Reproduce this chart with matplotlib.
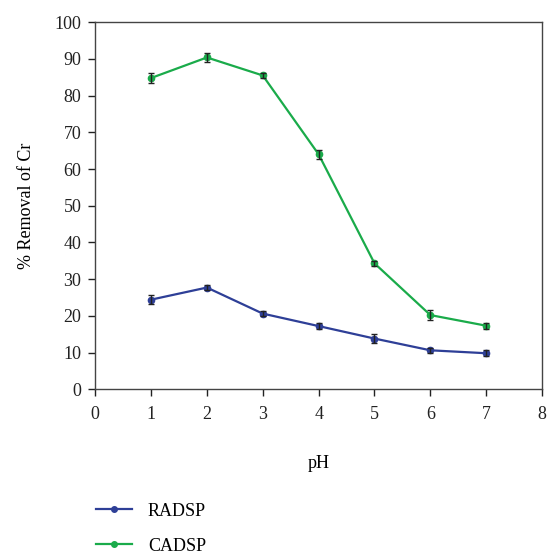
import numpy as np
import matplotlib.pyplot as plt
from matplotlib.lines import Line2D

plt.rcParams['font.family'] = ['Liberation Serif', 'DejaVu Serif']

ph = [1, 2, 3, 4, 5, 6, 7]
radsp = [24.4, 27.7, 20.6, 17.2, 13.8, 10.6, 9.8]
radsp_err = [1.3, 0.8, 0.6, 0.8, 1.3, 0.6, 0.8]
cadsp = [84.8, 90.4, 85.5, 64.0, 34.3, 20.2, 17.3]
cadsp_err = [1.3, 1.3, 0.6, 1.3, 0.6, 1.3, 0.8]

blue = '#2e3f97'
green = '#1aab4a'

fig = plt.figure(figsize=(5.47, 5.56), dpi=100)
ax = fig.add_axes([0.174, 0.300, 0.817, 0.660])

for y, err, c, name in [(radsp, radsp_err, blue, 'RADSP'),
                        (cadsp, cadsp_err, green, 'CADSP')]:
    ax.plot(ph, y, color=c, marker='o', ms=4.5, lw=1.6, zorder=2)
    ax.errorbar(ph, y, yerr=err, fmt='none', ecolor='#222222',
                elinewidth=1, capsize=2.5, capthick=1, zorder=3)

ax.set_xlim(0, 8)
ax.set_ylim(0, 100)
ax.set_xticks(range(0, 9))
ax.set_yticks(range(0, 101, 10))
ax.tick_params(direction='out', length=5, width=1, labelsize=13,
               colors='#222222')
ax.tick_params(axis='y', pad=5)
ax.tick_params(axis='x', pad=7)
for s in ax.spines.values():
    s.set_color('#444444')
    s.set_linewidth(1)

ax.set_xlabel('pH', fontsize=13, labelpad=23)
ax.set_ylabel('% Removal of Cr', fontsize=13, labelpad=14)

h1 = Line2D([], [], color=blue, marker='o', ms=4, lw=1.6)
h2 = Line2D([], [], color=green, marker='o', ms=4, lw=1.6)
fig.legend([h1, h2], ['RADSP', 'CADSP'], loc='upper left',
           bbox_to_anchor=(0.145, 0.125), frameon=False, fontsize=13,
           handlelength=2.0, labelspacing=1.0, handletextpad=0.9)

fig.savefig('out.png', dpi=100)
